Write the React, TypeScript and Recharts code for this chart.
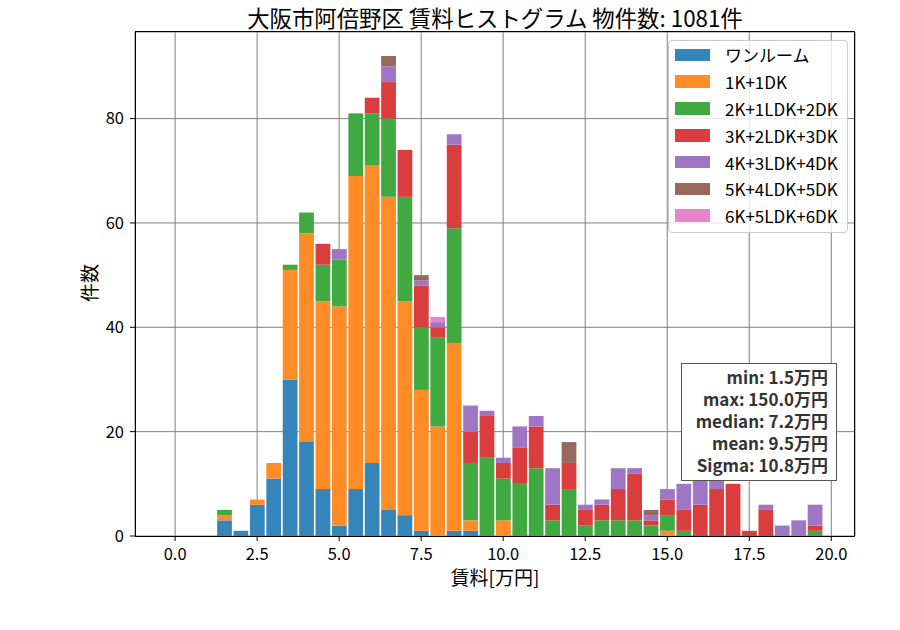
import React from 'react';
import { BarChart, Bar, XAxis, YAxis, CartesianGrid, Legend } from 'recharts';

// ---------- data ----------
const binCenters = [
  0.0, 0.5, 1.0, 1.5, 2.0, 2.5, 3.0, 3.5, 4.0, 4.5,
  5.0, 5.5, 6.0, 6.5, 7.0, 7.5, 8.0, 8.5, 9.0, 9.5,
  10.0, 10.5, 11.0, 11.5, 12.0, 12.5, 13.0, 13.5, 14.0, 14.5,
  15.0, 15.5, 16.0, 16.5, 17.0, 17.5, 18.0, 18.5, 19.0, 19.5,
];

const seriesNames = [
  'ワンルーム',
  '1K+1DK',
  '2K+1LDK+2DK',
  '3K+2LDK+3DK',
  '4K+3LDK+4DK',
  '5K+4LDK+5DK',
  '6K+5LDK+6DK',
];

const oneRoom = [0, 0, 0, 3, 1, 6, 11, 30, 18, 9, 2, 9, 14, 5, 4, 1, 0, 1, 1, 0, 0, 0, 0, 0, 0, 0, 0, 0, 0, 0, 0, 0, 0, 0, 0, 0, 0, 0, 0, 0];
const k1dk = [0, 0, 0, 1, 0, 1, 3, 21, 40, 36, 42, 60, 57, 60, 41, 27, 21, 36, 2, 0, 3, 0, 0, 0, 0, 0, 0, 0, 0, 0, 1, 0, 0, 0, 0, 0, 0, 0, 0, 0];
const k2ldk = [0, 0, 0, 1, 0, 0, 0, 1, 4, 7, 9, 12, 10, 15, 20, 12, 17, 22, 11, 15, 8, 10, 13, 3, 9, 2, 3, 3, 3, 2, 3, 1, 0, 0, 0, 0, 0, 0, 0, 1];
const k3ldk = [0, 0, 0, 0, 0, 0, 0, 0, 0, 4, 0, 0, 3, 7, 9, 8, 2, 16, 6, 8, 3, 7, 8, 3, 5, 3, 3, 6, 9, 1, 3, 4, 6, 9, 10, 1, 5, 0, 0, 1];
const k4ldk = [0, 0, 0, 0, 0, 0, 0, 0, 0, 0, 2, 0, 0, 3, 0, 1, 1, 2, 5, 1, 1, 4, 2, 7, 0, 1, 1, 4, 1, 1, 2, 5, 8, 3, 0, 0, 1, 2, 3, 4];
const k5ldk = [0, 0, 0, 0, 0, 0, 0, 0, 0, 0, 0, 0, 0, 2, 0, 1, 0, 0, 0, 0, 0, 0, 0, 0, 4, 0, 0, 0, 0, 1, 0, 0, 0, 0, 0, 0, 0, 0, 0, 0];
const k6ldk = [0, 0, 0, 0, 0, 0, 0, 0, 0, 0, 0, 0, 0, 0, 0, 0, 1, 0, 0, 0, 0, 0, 0, 0, 0, 0, 0, 0, 0, 0, 0, 0, 0, 0, 0, 0, 0, 0, 0, 0];

const seriesValues = [oneRoom, k1dk, k2ldk, k3ldk, k4ldk, k5ldk, k6ldk];

const xTicks = [0, 2.5, 5, 7.5, 10, 12.5, 15, 17.5, 20];
const yTicks = [0, 20, 40, 60, 80];

const titleText = '大阪市阿倍野区 賃料ヒストグラム 物件数: 1081件';
const xLabelText = '賃料[万円]';
const yLabelText = '件数';
const statLines = [
  'min: 1.5万円',
  'max: 150.0万円',
  'median: 7.2万円',
  'mean: 9.5万円',
  'Sigma: 10.8万円',
];

// ---------- styles / layout ----------
const seriesColors = ['#3585bb', '#ff8c26', '#41a941', '#da3d3e', '#9f76c4', '#98675d', '#e685c8'];
const FONT = "'Noto Sans CJK JP', 'Noto Sans', sans-serif";

const W = 900;
const H = 630;
const PL = 135;
const PT = 32;
const PW = 720;
const PH = 504;
const YAXIS_W = 60;
const XAXIS_H = 30;
const X_DOMAIN: [number, number] = [-1.2225, 20.7225];
const Y_DOMAIN: [number, number] = [0, 96.6];
const BIN_WIDTH = 0.5;
const RWIDTH = 0.9;
const BAR_SIZE = (PW * BIN_WIDTH * RWIDTH) / (X_DOMAIN[1] - X_DOMAIN[0]);

const keys = seriesNames.map((_, i) => `s${i}`);

const chartData = binCenters.map((x, i) => {
  const row: Record<string, number> = { x };
  seriesValues.forEach((vals, s) => {
    row[keys[s]] = vals[i];
  });
  return row;
});

const renderLegend = () => (
  <div
    style={{
      boxSizing: 'border-box',
      width: 180,
      height: 193,
      background: 'rgba(255,255,255,0.8)',
      border: '1px solid #cccccc',
      borderRadius: 4,
      paddingTop: 0.5,
      fontFamily: FONT,
    }}
  >
    {seriesNames.map((n, i) => (
      <div key={n} style={{ display: 'flex', alignItems: 'center', height: 26.8 }}>
        <span
          style={{
            display: 'inline-block',
            width: 35,
            height: 12.5,
            background: seriesColors[i],
            marginLeft: 6,
          }}
        />
        <span style={{ marginLeft: 15, fontSize: 17, lineHeight: '17px', color: '#000', whiteSpace: 'nowrap' }}>{n}</span>
      </div>
    ))}
  </div>
);

export default function App() {
  return (
    <div
      style={{
        position: 'absolute',
        left: 0,
        top: 0,
        width: W,
        height: H,
        background: '#fff',
        fontFamily: FONT,
      }}
    >
      <BarChart
        width={W}
        height={H}
        data={chartData}
        margin={{ top: PT, left: PL - YAXIS_W, right: W - PL - PW, bottom: H - PT - PH - XAXIS_H }}
        barCategoryGap={0}
        barGap={0}
      >
        <CartesianGrid stroke="#808080" strokeWidth={1} />
        <XAxis
          dataKey="x"
          type="number"
          domain={X_DOMAIN}
          allowDataOverflow
          ticks={xTicks}
          interval={0}
          tickFormatter={(v: number) => v.toFixed(1)}
          height={XAXIS_H}
          axisLine={false}
          tickLine={{ stroke: '#000', strokeWidth: 1 }}
          tickSize={5}
          tickMargin={7}
          tick={{ fill: '#000', fontSize: 16.5, fontFamily: FONT }}
        />
        <YAxis
          type="number"
          domain={Y_DOMAIN}
          allowDataOverflow
          ticks={yTicks}
          interval={0}
          width={YAXIS_W}
          axisLine={false}
          tickLine={{ stroke: '#000', strokeWidth: 1 }}
          tickSize={5}
          tickMargin={6}
          tick={{ fill: '#000', fontSize: 16.5, fontFamily: FONT }}
        />
        <Legend
          layout="vertical"
          align="center"
          verticalAlign="middle"
          content={renderLegend}
          wrapperStyle={{ left: 668, top: 40, width: 180, height: 193, right: 'auto', bottom: 'auto' }}
        />
        {keys.map((k, i) => (
          <Bar
            key={k}
            dataKey={k}
            name={seriesNames[i]}
            stackId="a"
            fill={seriesColors[i]}
            barSize={BAR_SIZE}
            isAnimationActive={false}
          />
        ))}
      </BarChart>

      {/* spines */}
      <div
        style={{
          position: 'absolute',
          left: PL,
          top: PT - 1,
          width: PW,
          height: PH + 2,
          boxSizing: 'border-box',
          border: '1px solid #000',
          pointerEvents: 'none',
        }}
      />

      {/* title */}
      <div
        style={{
          position: 'absolute',
          left: PL,
          width: PW,
          top: 6,
          textAlign: 'center',
          fontSize: 22.4,
          lineHeight: '22px',
          color: '#000',
          whiteSpace: 'nowrap',
        }}
      >
        {titleText}
      </div>

      {/* x label */}
      <div
        style={{
          position: 'absolute',
          left: PL,
          width: PW,
          top: 567,
          textAlign: 'center',
          fontSize: 19,
          lineHeight: '19px',
          color: '#000',
        }}
      >
        {xLabelText}
      </div>

      {/* y label */}
      <div
        style={{
          position: 'absolute',
          left: 88,
          top: 283,
          transform: 'translate(-50%, -50%) rotate(-90deg)',
          fontSize: 19,
          lineHeight: '19px',
          color: '#000',
          whiteSpace: 'nowrap',
        }}
      >
        {yLabelText}
      </div>

      {/* stats box */}
      <div
        style={{
          position: 'absolute',
          left: 681,
          top: 363,
          width: 156,
          height: 118,
          boxSizing: 'border-box',
          border: '1px solid #555',
          background: '#fff',
          padding: '2px 8px 0 0',
          textAlign: 'right',
          fontWeight: 'bold',
          fontSize: 17,
          lineHeight: '22px',
          color: '#333',
          whiteSpace: 'nowrap',
        }}
      >
        {statLines.map((l) => (
          <div key={l} style={{ height: 22, overflow: 'visible' }}>{l}</div>
        ))}
      </div>
    </div>
  );
}
